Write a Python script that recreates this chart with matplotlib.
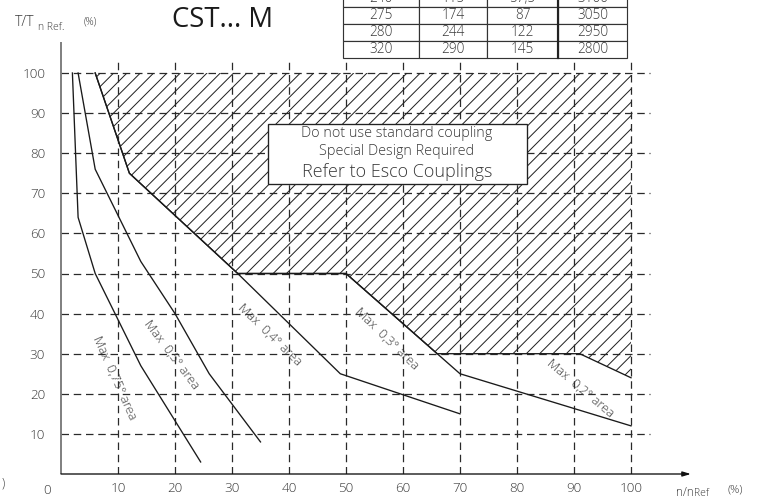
import numpy as np
import matplotlib
matplotlib.use("Agg")
import matplotlib.pyplot as plt

# Permissible operating areas, speed n/n Ref (%) vs torque T/Tn Ref (%)
curve_075_x = [2, 3, 6, 14, 24.5]
curve_075_y = [100, 64, 50, 27, 3]

curve_05_x = [3, 6, 14, 20, 26, 35]
curve_05_y = [100, 76, 53, 40, 25, 8]

curve_04_x = [6, 12, 31, 49, 70]
curve_04_y = [100, 75, 50, 25, 15]

curve_03_x = [31, 50, 70, 100]
curve_03_y = [50, 50, 25, 12]

# boundary of the "special design" zone
limit_x = [6, 12, 31, 50, 66, 91, 100]
limit_y = [100, 75, 50, 50, 30, 30, 24]

area_labels = ["Max  0,75° area", "Max  0,5° area", "Max  0,4° area",
               "Max  0,3° area", "Max  0,2° area"]
area_label_x = [9.4, 19.3, 36.6, 57.1, 91.1]
area_label_y = [24.0, 29.8, 34.8, 33.8, 21.4]
area_label_rot = [-66, -53, -44, -44, -40]

grid_ticks = list(range(10, 101, 10))

table_rows = [
    ["240", "115", "57,5", "3100"],
    ["275", "174", "87", "3050"],
    ["280", "244", "122", "2950"],
    ["320", "290", "145", "2800"],
]

TXT = "#3a3a3a"
plt.rcParams["font.family"] = ["Open Sans", "DejaVu Sans"]
plt.rcParams["font.weight"] = "light"

W, H, DPI = 759, 499, 120
fig = plt.figure(figsize=(W / DPI, H / DPI), dpi=DPI)


def fx(px):
    return px / W


def fy(py):
    return 1 - py / H


# axes: x=0 at 61 px, 5.7 px per unit; y=0 at 474 px, 4.01 px per unit
xmax, ymax = 110.5, 107.8
ax = fig.add_axes([fx(61), fy(474), 5.7 * xmax / W, 4.01 * ymax / H])
ax.set_xlim(0, xmax)
ax.set_ylim(0, ymax)
for s in ax.spines.values():
    s.set_visible(False)

# dashed grid
dash = (0, (6, 3.8))
ax.hlines(grid_ticks, 0, 103.3, colors="#2a2a2a", linewidth=0.75,
          linestyles=dash, zorder=1)
ax.vlines(grid_ticks, 0, 102.7, colors="#2a2a2a", linewidth=0.75,
          linestyles=dash, zorder=1)

# hatched zone
plt.rcParams["hatch.linewidth"] = 0.6
ax.fill(limit_x + [100], limit_y + [100], facecolor="none",
        edgecolor="#222222", hatch="///", linewidth=0, zorder=2)
ax.plot(limit_x, limit_y, color="#1a1a1a", linewidth=0.8, zorder=3)

for cx, cy in [(curve_075_x, curve_075_y), (curve_05_x, curve_05_y),
               (curve_04_x, curve_04_y), (curve_03_x, curve_03_y)]:
    ax.plot(cx, cy, color="#1a1a1a", linewidth=0.8, zorder=3)

for lab, lx, ly, rot in zip(area_labels, area_label_x, area_label_y,
                            area_label_rot):
    ax.text(lx, ly, lab, rotation=rot, rotation_mode="anchor",
            ha="center", va="center", fontsize=7.7, color=TXT, zorder=4)

# warning box
ax.add_patch(plt.Rectangle((36.3, 72.4), 45.5, 15.0, facecolor="white",
                           edgecolor="#222222", linewidth=0.8, zorder=5))
ax.text(58.9, 85.0, "Do not use standard coupling", ha="center",
        va="center", fontsize=8.6, color=TXT, zorder=6)
ax.text(58.9, 80.3, "Special Design Required", ha="center",
        va="center", fontsize=8.6, color=TXT, zorder=6)
ax.text(58.9, 75.2, "Refer to Esco Couplings", ha="center",
        va="center", fontsize=10.8, color=TXT, zorder=6)

# axis lines
ax.plot([0, 0], [0, ymax], color="#777777", linewidth=1.1,
        solid_capstyle="butt", clip_on=False, zorder=3)
ax.annotate("", xy=(xmax, 0), xytext=(0, 0),
            arrowprops=dict(arrowstyle="-|>,head_length=0.4,head_width=0.12",
                            color="#111111", lw=0.8, shrinkA=0, shrinkB=0),
            annotation_clip=False)

# ticks
ax.set_xticks(grid_ticks)
ax.set_yticks(grid_ticks)
ax.tick_params(length=0, labelsize=8.0, labelcolor=TXT)
ax.tick_params(axis="x", pad=5)
ax.tick_params(axis="y", pad=9.5)
fig.text(fx(47), fy(490), "0", ha="center", va="center", fontsize=8.0,
         color=TXT)

# axis titles
fig.text(fx(15), fy(23), "T/T", ha="left", va="center", fontsize=8.4,
         color=TXT)
fig.text(fx(38), fy(28), "n Ref.", ha="left", va="center", fontsize=6.2,
         color=TXT)
fig.text(fx(84), fy(21.5), "(%)", ha="left", va="center", fontsize=6.0,
         color=TXT)
fig.text(fx(676), fy(492), "n/n", ha="left", va="center", fontsize=7.0,
         color=TXT)
fig.text(fx(694), fy(493.5), "Ref", ha="left", va="center", fontsize=6.2,
         color=TXT)
fig.text(fx(727), fy(490), "(%)", ha="left", va="center", fontsize=6.8,
         color=TXT)
fig.text(fx(2), fy(483), ")", ha="left", va="center", fontsize=7,
         color=TXT)

# title
fig.text(fx(223), fy(20), "CST... M", ha="center", va="center",
         fontsize=16.5, fontweight="normal", color="#1a1a1a")

# table (top row runs off the page)
tab_ax = fig.add_axes([fx(343), fy(58), fx(627 - 343), (58 + 10) / H])
tab_ax.axis("off")
col_w = np.array([76, 68, 71, 69]) / 284
tab = tab_ax.table(cellText=table_rows, colWidths=list(col_w),
                   cellLoc="center", bbox=[0, 0, 1, 1])
tab.auto_set_font_size(False)
for cell in tab.get_celld().values():
    cell.set_edgecolor("#333333")
    cell.set_linewidth(0.7)
    cell.get_text().set_fontsize(8.2)
    cell.get_text().set_color(TXT)
tab_ax.plot([col_w[:3].sum()] * 2, [0, 1], color="#222222", linewidth=1.3,
            transform=tab_ax.transAxes, clip_on=False)

fig.savefig("out.png", dpi=DPI)
